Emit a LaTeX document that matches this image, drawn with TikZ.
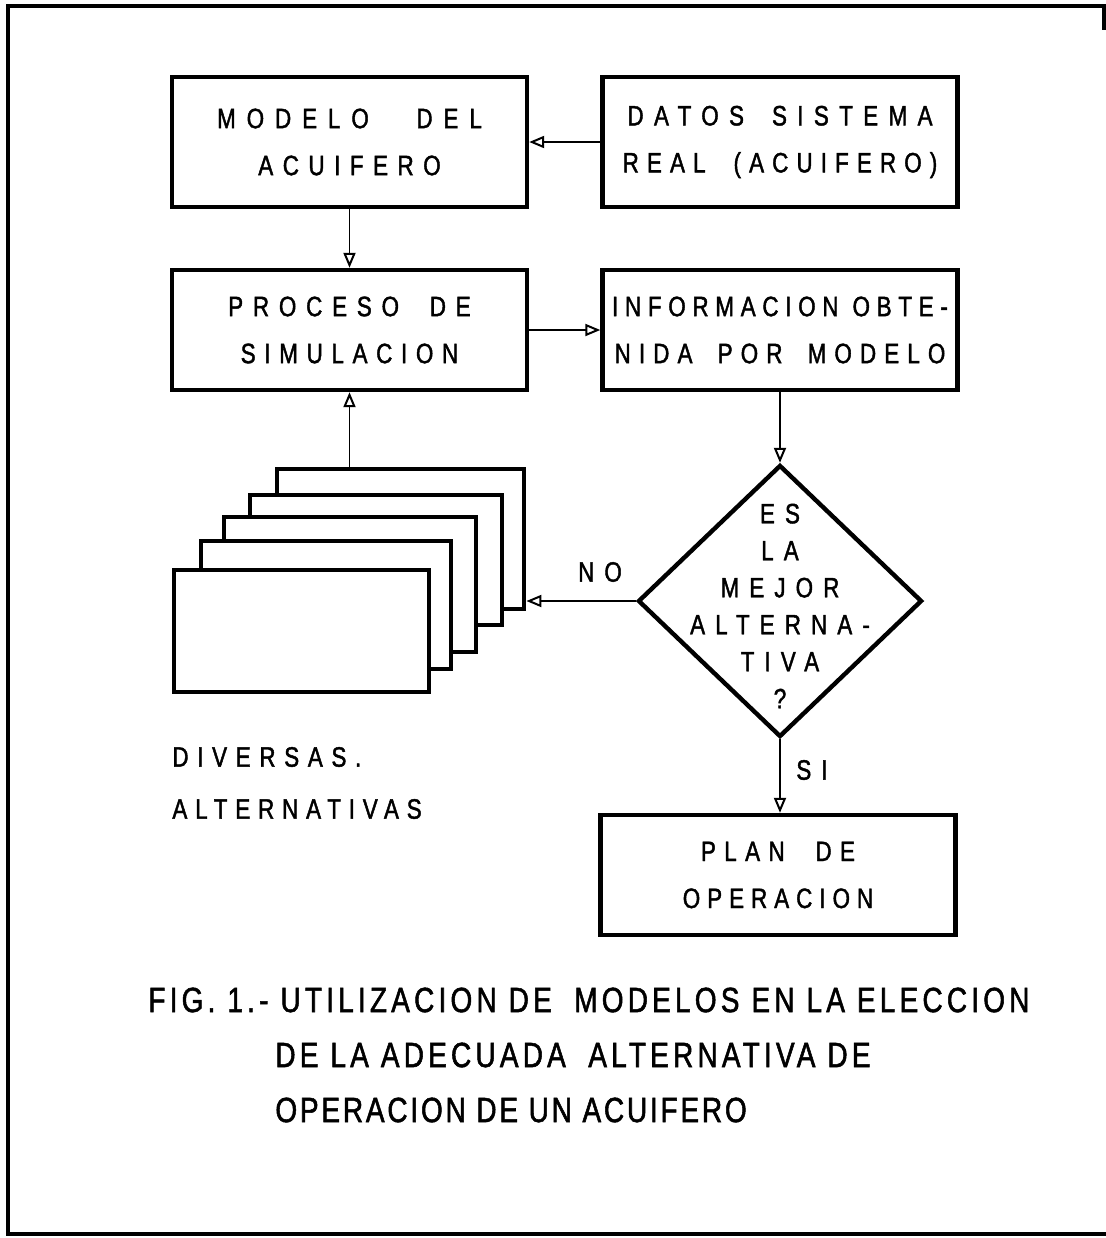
\documentclass[tikz,border=0pt]{standalone}
\usepackage{fontspec}
\usetikzlibrary{arrows.meta,shapes.geometric}
\newfontfamily\lettr{Liberation Sans}[FakeStretch=0.8,FakeBold=1.5,LetterSpace=30]
\newfontfamily\captf{Liberation Sans}[FakeStretch=0.8,FakeBold=1.5,LetterSpace=12]
\newcommand{\boxfont}{\lettr\fontsize{14}{23.5}\selectfont}
\newcommand{\diafont}{\lettr\fontsize{14}{18.5}\selectfont}
\newcommand{\capfont}{\captf\fontsize{17.5}{27.5}\selectfont}
\newcommand{\ls}[1]{\addfontfeature{LetterSpace=#1}}
\begin{document}
\begin{tikzpicture}[x=0.5pt,y=-0.5pt,
  box/.style={draw, line width=2.2pt, minimum width=177.5pt, inner sep=0pt, align=center, font=\boxfont},
  sbox/.style={draw, line width=2.2pt, fill=white, inner sep=0pt, anchor=north west},
  lbl/.style={font=\boxfont, inner sep=0pt},
  arr/.style={line width=0.9pt, -{Triangle[open, length=7.5pt, width=6pt, line width=1pt]}},
  frame/.style={line width=2.2pt}]
\useasboundingbox (0,0) rectangle (1106,1238);
% outer frame
\draw[frame] (1106,6) -- (8,6) -- (8,1234) -- (1106,1234);
\draw[frame] (1104,6) -- (1104,30);
% boxes
\node[box, minimum height=65pt] (modelo) at (349.5,142) {{\ls{39}MODELO\hspace{1.7em}DEL}\\{\ls{34}ACUIFERO}};
\node[box, minimum height=65pt] (datos) at (780,142) {{\ls{37}DATOS\hspace{1em}SISTEMA}\\{\ls{29}REAL\hspace{1em}(ACUIFERO)}};
\node[box, minimum height=60pt] (proceso) at (349.5,330) {{\ls{35}PROCESO\hspace{1.1em}DE}\\{\ls{31}SIMULACION}};
\node[box, minimum height=60pt] (info) at (780,330) {{\ls{24}INFORMACION\hspace{0.5em}OBTE-}\\{\ls{29}NIDA\hspace{0.9em}POR\hspace{0.9em}MODELO}};
\node[box, minimum height=60pt] (plan) at (778,875) {{\ls{30}PLAN\hspace{1.1em}DE}\\{\ls{25}OPERACION}};
% decision
\node[draw, diamond, line width=2.2pt, minimum width=142pt, minimum height=136pt, inner sep=0pt] (dec) at (780,601) {};
\node[font=\diafont, align=center, inner sep=0pt] (dectext) at (780,606) {{\ls{36}ES}\\{\ls{36}LA}\\{\ls{36}MEJOR}\\{\ls{36}ALTERNA-}\\{\ls{36}TIVA}\\?};
% stacked alternatives
\node[sbox, minimum width=123.5pt, minimum height=70pt] (s4) at (275,467) {};
\node[sbox, minimum width=126pt, minimum height=65pt] (s3) at (248,493) {};
\node[sbox, minimum width=126pt, minimum height=67.5pt] (s2) at (222,515) {};
\node[sbox, minimum width=125pt, minimum height=64pt] (s1) at (199,539) {};
\node[sbox, minimum width=127.5pt, minimum height=61pt] (s0) at (172,568) {};
% connectors
\draw[arr] (datos.west) -- (modelo.east);
\draw[arr] (modelo.south) -- (proceso.north);
\draw[arr] (proceso.east) -- (info.west);
\draw[arr] (info.south -| dec.north) -- (dec.north);
\draw[arr] (dec.west) -- (dec.west -| s4.east);
\draw[arr] (s4.north -| proceso.south) -- (proceso.south);
\draw[arr] (dec.south) -- (dec.south |- plan.north);
% labels
\node[lbl] (no) at (600,572) {{\ls{36}NO}};
\node[lbl] (si) at (812,770) {{\ls{36}SI}};
\node[lbl, anchor=west] (div) at (172,757) {{\ls{31}DIVERSAS.}};
\node[lbl, anchor=west] (alt) at (172,809) {{\ls{28}ALTERNATIVAS}};
% caption
\node[font=\capfont, anchor=west, inner sep=0pt] (cap1) at (148,1000) {FIG. 1.- UTILIZACION DE\hspace{0.3em} MODELOS EN LA ELECCION};
\node[font=\capfont, anchor=west, inner sep=0pt] (cap2) at (275,1055) {DE LA ADECUADA\hspace{0.3em} ALTERNATIVA DE};
\node[font=\capfont, anchor=west, inner sep=0pt] (cap3) at (275,1110) {{\ls{8}OPERACION DE UN ACUIFERO}};
\end{tikzpicture}
\end{document}
